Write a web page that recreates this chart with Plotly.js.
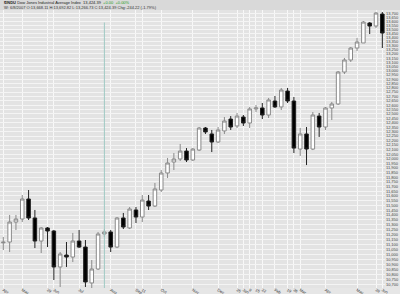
<!DOCTYPE html>
<html><head><meta charset="utf-8">
<script src="https://cdn.plot.ly/plotly-3.0.1.min.js"></script>
<style>html,body{margin:0;padding:0;background:#e6e6e6;}#chart{width:400px;height:294px;}</style>
</head><body><div id="chart"></div>
<script>
// Weekly candles (week of Monday)
const weeks = [
 '2006-04-10','2006-04-17','2006-04-24','2006-05-01','2006-05-08','2006-05-15','2006-05-22','2006-05-29',
 '2006-06-05','2006-06-12','2006-06-19','2006-06-26','2006-07-03','2006-07-10','2006-07-17','2006-07-24',
 '2006-07-31','2006-08-07','2006-08-14','2006-08-21','2006-08-28','2006-09-04','2006-09-11','2006-09-18',
 '2006-09-25','2006-10-02','2006-10-09','2006-10-16','2006-10-23','2006-10-30','2006-11-06','2006-11-13',
 '2006-11-20','2006-11-27','2006-12-04','2006-12-11','2006-12-18','2006-12-25','2007-01-01','2007-01-08',
 '2007-01-15','2007-01-22','2007-01-29','2007-02-05','2007-02-12','2007-02-19','2007-02-26','2007-03-05',
 '2007-03-12','2007-03-19','2007-03-26','2007-04-02','2007-04-09','2007-04-16','2007-04-23','2007-04-30',
 '2007-05-07','2007-05-14','2007-05-21','2007-05-28','2007-06-04'
];
const openV = [11116,11124,11328,11359,11568,11370,11134,11267,11236,10874,10993,10973,11134,11073,10717,10854,
 11205,11226,11073,11370,11267,11453,11380,11547,11494,11663,11845,11964,11997,12084,11986,12095,
 12340,12273,12184,12307,12441,12363,12464,12396,12556,12567,12487,12647,12579,12762,12647,12106,
 12273,12106,12475,12351,12567,12613,12985,13128,13272,13333,13577,13540,13689];
const highV = [11175,11401,11401,11610,11663,11453,11277,11277,11246,11023,11124,11216,11246,11144,10943,11226,
 11256,11246,11380,11422,11484,11484,11610,11610,11738,11877,12008,12062,12162,12117,12117,12351,
 12351,12318,12351,12464,12475,12510,12487,12579,12601,12624,12682,12705,12798,12798,12693,12340,
 12351,12521,12510,12579,12636,12997,13152,13284,13394,13602,13589,13714,13714];
const lowV = [11043,11023,11246,11328,11349,11063,11013,11073,10746,10678,10874,10923,11063,10678,10668,10844,
 11175,11023,11063,11256,11256,11318,11328,11453,11484,11642,11791,11877,11975,11964,11975,12084,
 12273,12073,12173,12273,12318,12340,12363,12340,12521,12441,12453,12567,12544,12624,12062,12030,
 11931,12095,12240,12318,12430,12601,12961,13104,13236,13333,13442,13516,13272];
const closeV = [11122,11328,11359,11568,11370,11134,11267,11236,10874,11003,10973,11134,11073,10727,10854,11205,
 11226,11073,11370,11277,11463,11380,11557,11494,11674,11845,11953,11997,12084,11986,12106,12340,
 12296,12184,12318,12419,12351,12475,12396,12556,12567,12487,12659,12579,12774,12647,12117,12273,
 12106,12487,12351,12567,12613,12985,13128,13272,13345,13589,13540,13701,13454];

const tickDates = ['2006-04-10','2006-05-01','2006-05-29','2006-06-05','2006-07-03','2006-08-07','2006-09-04','2006-09-11',
 '2006-10-02','2006-11-06','2006-12-04','2006-12-25','2007-01-01','2007-01-08','2007-01-15','2007-01-22',
 '2007-02-05','2007-02-19','2007-02-26','2007-03-05','2007-04-02','2007-05-07','2007-05-28','2007-06-04'];
const tickLabels = ['Apr','May','29','Jun','Jul','Aug','Sep','11','Oct','Nov','Dec','25','Jan','8','15','22',
 'Feb','19','26','Mar','Apr','May','28','Jun'];
const markerWeek = '2006-07-31';

const titleLine1 = '<b>$INDU</b> Dow Jones Industrial Average Index  13,424.39  <span style="color:#1a9a1a">+0.00  +0.00%</span>';
const titleLine2 = 'W: 6/8/2007 O:13,668.11 H:13,692.82 L:13,266.73 C:13,424.39 Chg:-244.22 (-1.79%)';

const trace = {
  type: 'candlestick', x: weeks, open: openV, high: highV, low: lowV, close: closeV,
  increasing: {line: {color: '#8a8a8a', width: 1}, fillcolor: '#ffffff'},
  decreasing: {line: {color: '#222222', width: 1}, fillcolor: '#000000'},
  whiskerwidth: 0, hoverinfo: 'skip', showlegend: false
};

const layout = {
  width: 400, height: 294,
  margin: {l: 0, r: 15, t: 10, b: 6, pad: 0},
  paper_bgcolor: '#e6e6e6', plot_bgcolor: '#e3e3e3',
  font: {family: 'Liberation Sans, Arial, sans-serif', size: 4, color: '#333'},
  boxgap: 0.2,
  showlegend: false,
  xaxis: {
    type: 'date', range: ['2006-04-06 08:00', '2007-06-06 23:00'],
    tickmode: 'array', tickvals: tickDates, ticktext: tickLabels,
    showgrid: true, gridcolor: '#f8f8f8', gridwidth: 1, ticks: '', showline: false, zeroline: false,
    tickfont: {size: 4, color: '#333'}, ticklabelstandoff: -2,
    rangeslider: {visible: false}, fixedrange: true
  },
  yaxis: {
    type: 'log', side: 'right', range: [4.028083, 4.137956],
    dtick: 'L50', tick0: 10700, tickformat: ',d',
    showgrid: true, gridcolor: '#f4f4f4', gridwidth: 1, ticks: '', showline: false, zeroline: false,
    tickfont: {size: 4, color: '#444'}, fixedrange: true
  },
  shapes: [
    {type: 'rect', xref: 'paper', yref: 'paper', x0: 0, x1: 1.04, y0: 1, y1: 1 + 10/278,
     fillcolor: '#d9d9d9', line: {width: 0}, layer: 'below'},
    {type: 'line', xref: 'x', yref: 'paper', x0: markerWeek, x1: markerWeek, y0: 0, y1: 0.955,
     line: {color: '#9fc9c3', width: 1}}
  ],
  annotations: [
    {xref: 'paper', yref: 'paper', x: 0.005, y: 1 + 7/278, xanchor: 'left', yanchor: 'middle',
     text: titleLine1, showarrow: false, font: {size: 4, color: '#222'}},
    {xref: 'paper', yref: 'paper', x: 0.005, y: 1 + 2.5/278, xanchor: 'left', yanchor: 'middle',
     text: titleLine2, showarrow: false, font: {size: 4, color: '#333'}}
  ]
};

Plotly.newPlot('chart', [trace], layout, {staticPlot: true, displayModeBar: false});
</script>
</body></html>
